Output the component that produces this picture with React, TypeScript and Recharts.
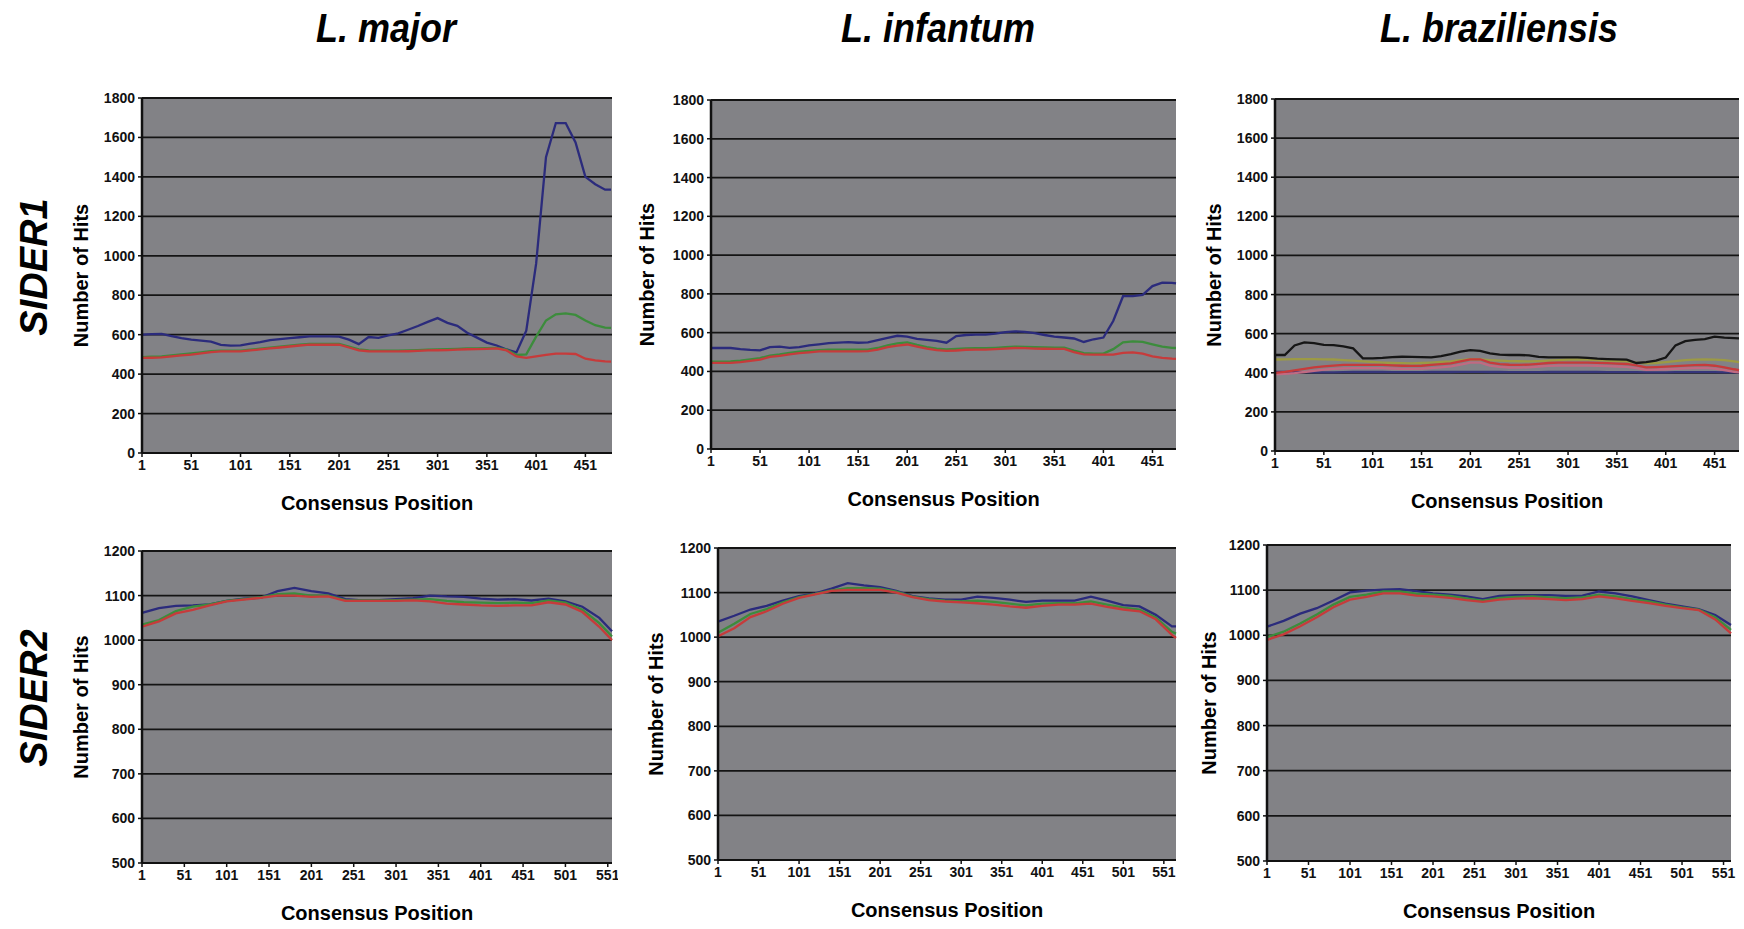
import React from "react";
import { LineChart, Line, XAxis, YAxis, CartesianGrid } from "recharts";

// ---- axis ticks ----
const sider1PosTicks = [1, 51, 101, 151, 201, 251, 301, 351, 401, 451];
const sider2PosTicks = [1, 51, 101, 151, 201, 251, 301, 351, 401, 451, 501, 551];
const sider1HitTicks = [0, 200, 400, 600, 800, 1000, 1200, 1400, 1600, 1800];
const sider2HitTicks = [500, 600, 700, 800, 900, 1000, 1100, 1200];

// ---- SIDER1, L. major ----
const majorS1Pos = [1, 11, 21, 31, 41, 51, 61, 71, 81, 91, 101, 111, 121, 131, 141, 151, 161, 171, 181, 191, 201, 211, 221, 231, 241, 251, 261, 271, 281, 291, 301, 311, 321, 331, 341, 351, 361, 371, 381, 391, 401, 411, 421, 431, 441, 451, 461, 471, 477];
const majorS1Blue = [600, 603, 604, 593, 583, 575, 570, 565, 548, 544, 546, 554, 562, 572, 577, 582, 587, 591, 591, 591, 590, 575, 552, 588, 584, 596, 607, 625, 644, 665, 684, 660, 645, 610, 585, 560, 545, 525, 510, 620, 960, 1500, 1673, 1673, 1575, 1400, 1363, 1335, 1335];
const majorS1Green = [486, 488, 490, 495, 500, 505, 510, 516, 519, 519, 519, 524, 529, 534, 539, 544, 549, 553, 553, 553, 553, 540, 525, 520, 519, 519, 519, 520, 522, 524, 525, 526, 528, 530, 531, 532, 533, 524, 497, 500, 590, 672, 703, 708, 700, 672, 648, 636, 634];
const majorS1Red = [482, 483, 485, 490, 495, 499, 505, 512, 515, 515, 515, 520, 525, 530, 535, 540, 545, 549, 549, 549, 549, 535, 520, 516, 515, 515, 515, 516, 518, 520, 521, 522, 524, 526, 527, 528, 530, 520, 490, 482, 490, 498, 504, 504, 502, 478, 470, 465, 463];

// ---- SIDER1, L. infantum ----
const infantumS1Pos = [1, 11, 21, 31, 41, 51, 61, 71, 81, 91, 101, 111, 121, 131, 141, 151, 161, 171, 181, 191, 201, 211, 221, 231, 241, 251, 261, 271, 281, 291, 301, 311, 321, 331, 341, 351, 361, 371, 381, 391, 401, 411, 421, 431, 441, 451, 461, 471, 475];
const infantumS1Blue = [521, 521, 521, 515, 511, 509, 525, 528, 522, 525, 535, 540, 546, 549, 551, 548, 550, 562, 573, 584, 580, 568, 563, 558, 548, 582, 588, 590, 590, 595, 603, 607, 604, 598, 588, 580, 575, 570, 552, 566, 575, 660, 788, 788, 795, 840, 858, 857, 854];
const infantumS1Green = [450, 451, 452, 456, 462, 469, 482, 488, 496, 502, 506, 510, 512, 512, 512, 512, 513, 521, 535, 545, 550, 537, 526, 518, 514, 516, 519, 520, 520, 522, 525, 528, 527, 525, 524, 523, 523, 507, 494, 492, 492, 515, 550, 555, 552, 540, 528, 522, 521];
const infantumS1Red = [444, 444, 444, 448, 454, 461, 475, 480, 488, 494, 498, 503, 504, 504, 504, 504, 505, 512, 525, 533, 539, 528, 518, 510, 506, 508, 512, 513, 513, 515, 518, 521, 520, 518, 517, 516, 516, 500, 488, 487, 487, 487, 496, 498, 492, 478, 470, 466, 465];

// ---- SIDER1, L. braziliensis ----
const brazS1Pos = [1, 11, 21, 31, 41, 51, 61, 71, 81, 91, 101, 111, 121, 131, 141, 151, 161, 171, 181, 191, 201, 211, 221, 231, 241, 251, 261, 271, 281, 291, 301, 311, 321, 331, 341, 351, 361, 371, 381, 391, 401, 411, 421, 431, 441, 451, 461, 471, 476];
const brazS1Black = [491, 491, 540, 555, 552, 543, 541, 535, 525, 474, 474, 476, 480, 482, 481, 480, 479, 485, 495, 508, 516, 512, 499, 493, 491, 491, 489, 481, 479, 479, 479, 479, 476, 472, 470, 469, 467, 450, 455, 462, 478, 540, 562, 568, 572, 585, 580, 577, 576];
const brazS1Olive = [468, 469, 470, 470, 470, 469, 468, 465, 462, 458, 455, 452, 450, 449, 448, 450, 452, 455, 458, 464, 470, 468, 465, 462, 460, 459, 458, 460, 462, 465, 468, 468, 468, 465, 462, 460, 458, 452, 448, 450, 455, 460, 465, 467, 468, 467, 465, 458, 455];
const brazS1Red = [400, 405, 412, 420, 428, 433, 437, 440, 440, 440, 440, 440, 438, 436, 435, 436, 440, 444, 448, 458, 469, 469, 452, 444, 441, 440, 442, 446, 450, 452, 452, 452, 452, 451, 449, 447, 445, 438, 428, 429, 431, 434, 437, 439, 440, 436, 428, 418, 414];
const brazS1Pink = [392, 394, 398, 404, 410, 416, 420, 423, 424, 424, 424, 424, 422, 420, 420, 421, 424, 428, 433, 442, 452, 452, 437, 430, 427, 426, 428, 432, 435, 437, 437, 437, 437, 436, 434, 432, 430, 424, 415, 416, 418, 420, 423, 424, 425, 421, 414, 405, 402];
const brazS1Navy = [404, 404, 403, 403, 402, 402, 402, 403, 404, 404, 404, 404, 403, 403, 403, 403, 404, 404, 404, 405, 405, 405, 404, 404, 403, 403, 403, 403, 404, 404, 404, 404, 404, 404, 403, 403, 403, 403, 402, 402, 402, 403, 403, 403, 403, 403, 402, 402, 402];

// ---- SIDER2, L. major ----
const majorS2Pos = [1, 21, 41, 61, 81, 101, 121, 141, 161, 181, 201, 221, 241, 261, 281, 301, 321, 341, 361, 381, 401, 421, 441, 461, 481, 501, 521, 541, 556];
const majorS2Blue = [1061, 1072, 1077, 1078, 1080, 1088, 1093, 1095, 1110, 1117, 1110, 1105, 1092, 1089, 1090, 1092, 1094, 1100, 1098, 1097, 1093, 1091, 1092, 1089, 1093, 1087, 1075, 1050, 1020];
const majorS2Green = [1035, 1045, 1065, 1075, 1080, 1088, 1092, 1096, 1103, 1105, 1100, 1100, 1090, 1089, 1089, 1090, 1091, 1092, 1088, 1085, 1084, 1083, 1084, 1083, 1089, 1084, 1068, 1038, 1008];
const majorS2Red = [1030, 1042, 1060, 1068, 1078, 1087, 1091, 1095, 1100, 1100, 1097, 1098, 1088, 1088, 1088, 1088, 1089, 1087, 1082, 1080, 1078, 1077, 1078, 1078, 1085, 1080, 1063, 1030, 1000];

// ---- SIDER2, L. infantum ----
const infantumS2Pos = [1, 21, 41, 61, 81, 101, 121, 141, 161, 181, 201, 221, 241, 261, 281, 301, 321, 341, 361, 381, 401, 421, 441, 461, 481, 501, 521, 541, 561, 566];
const infantumS2Blue = [1035, 1048, 1062, 1070, 1082, 1092, 1098, 1109, 1121, 1116, 1112, 1104, 1092, 1087, 1084, 1084, 1091, 1088, 1084, 1079, 1082, 1082, 1082, 1091, 1082, 1072, 1069, 1050, 1024, 1024];
const infantumS2Green = [1010, 1030, 1052, 1063, 1078, 1090, 1097, 1105, 1110, 1110, 1109, 1102, 1091, 1085, 1082, 1080, 1082, 1079, 1075, 1071, 1075, 1076, 1076, 1080, 1073, 1066, 1062, 1044, 1012, 1008];
const infantumS2Red = [1002, 1020, 1045, 1058, 1075, 1088, 1096, 1104, 1106, 1106, 1106, 1100, 1090, 1083, 1080, 1078, 1076, 1073, 1069, 1066, 1070, 1073, 1073, 1075, 1068, 1062, 1058, 1040, 1005, 998];

// ---- SIDER2, L. braziliensis ----
const brazS2Pos = [1, 21, 41, 61, 81, 101, 121, 141, 161, 181, 201, 221, 241, 261, 281, 301, 321, 341, 361, 381, 401, 421, 441, 461, 481, 501, 521, 541, 560];
const brazS2Blue = [1019, 1032, 1048, 1060, 1077, 1095, 1099, 1101, 1102, 1098, 1093, 1090, 1086, 1080, 1087, 1089, 1089, 1089, 1087, 1088, 1097, 1093, 1086, 1078, 1070, 1064, 1058, 1045, 1023];
const brazS2Green = [996, 1008, 1026, 1046, 1068, 1085, 1090, 1097, 1097, 1092, 1090, 1087, 1082, 1077, 1083, 1085, 1086, 1084, 1082, 1084, 1090, 1086, 1080, 1075, 1068, 1062, 1057, 1040, 1012];
const brazS2Red = [990, 1002, 1020, 1040, 1062, 1079, 1085, 1093, 1093, 1088, 1086, 1083, 1078, 1074, 1079, 1081, 1082, 1080, 1078, 1080, 1086, 1082, 1076, 1071, 1065, 1060, 1056, 1035, 1004];

const BLUE = "#2b2b7c";
const GREEN = "#3c8c3c";
const RED = "#c63b3b";
const BLACK = "#161616";
const OLIVE = "#9c9a44";
const PINK = "#c06a82";
const NAVY = "#35357a";

const FONT = "'Liberation Sans', Arial, sans-serif";

type Series = { values: number[]; color: string };
type Panel = {
  pos: number[];
  series: Series[];
  xMax: number;
  xTicks: number[];
  yTicks: number[];
  left: number;
  top: number;
  width: number;
  height: number;
  hitsX: number;
};

const panels: Panel[] = [
  {
    pos: majorS1Pos,
    series: [
      { values: majorS1Blue, color: BLUE },
      { values: majorS1Green, color: GREEN },
      { values: majorS1Red, color: RED },
    ],
    xMax: 478, xTicks: sider1PosTicks, yTicks: sider1HitTicks,
    left: 142, top: 98, width: 470, height: 355, hitsX: 88,
  },
  {
    pos: infantumS1Pos,
    series: [
      { values: infantumS1Blue, color: BLUE },
      { values: infantumS1Green, color: GREEN },
      { values: infantumS1Red, color: RED },
    ],
    xMax: 475, xTicks: sider1PosTicks, yTicks: sider1HitTicks,
    left: 711, top: 100, width: 465, height: 349, hitsX: 654,
  },
  {
    pos: brazS1Pos,
    series: [
      { values: brazS1Navy, color: NAVY },
      { values: brazS1Olive, color: OLIVE },
      { values: brazS1Pink, color: PINK },
      { values: brazS1Red, color: RED },
      { values: brazS1Black, color: BLACK },
    ],
    xMax: 476, xTicks: sider1PosTicks, yTicks: sider1HitTicks,
    left: 1275, top: 99, width: 464, height: 352, hitsX: 1221,
  },
  {
    pos: majorS2Pos,
    series: [
      { values: majorS2Blue, color: BLUE },
      { values: majorS2Green, color: GREEN },
      { values: majorS2Red, color: RED },
    ],
    xMax: 556, xTicks: sider2PosTicks, yTicks: sider2HitTicks,
    left: 142, top: 551, width: 470, height: 312, hitsX: 88,
  },
  {
    pos: infantumS2Pos,
    series: [
      { values: infantumS2Blue, color: BLUE },
      { values: infantumS2Green, color: GREEN },
      { values: infantumS2Red, color: RED },
    ],
    xMax: 566, xTicks: sider2PosTicks, yTicks: sider2HitTicks,
    left: 718, top: 548, width: 458, height: 312, hitsX: 663,
  },
  {
    pos: brazS2Pos,
    series: [
      { values: brazS2Blue, color: BLUE },
      { values: brazS2Green, color: GREEN },
      { values: brazS2Red, color: RED },
    ],
    xMax: 560, xTicks: sider2PosTicks, yTicks: sider2HitTicks,
    left: 1267, top: 545, width: 464, height: 316, hitsX: 1216,
  },
];

const species = [
  { name: "L. major", x: 386 },
  { name: "L. infantum", x: 938 },
  { name: "L. braziliensis", x: 1499 },
];
const rows = [
  { name: "SIDER1", y: 267 },
  { name: "SIDER2", y: 698 },
];

const tickStyle = { fontSize: 14, fontWeight: 700, fill: "#111", fontFamily: FONT };

function PanelChart({ p }: { p: Panel }) {
  const data = p.pos.map((pos, i) => {
    const row: Record<string, number> = { pos };
    p.series.forEach((s, k) => {
      row["s" + k] = s.values[i];
    });
    return row;
  });
  const yW = 70;
  const mTop = 10;
  const mRight = 6;
  const xH = 40;
  const domainY: [number, number] = [p.yTicks[0], p.yTicks[p.yTicks.length - 1]];
  return (
    <div style={{ position: "absolute", left: p.left - yW, top: p.top - mTop }}>
      <LineChart
        width={p.width + yW + mRight}
        height={p.height + mTop + xH}
        data={data}
        margin={{ top: mTop, right: mRight, bottom: 0, left: 0 }}
        style={{ fontFamily: FONT }}
      >
        <CartesianGrid
          vertical={false}
          fill="#828286"
          fillOpacity={1}
          stroke="#141414"
          strokeWidth={1.8}
        />
        <XAxis
          dataKey="pos"
          type="number"
          domain={[1, p.xMax]}
          ticks={p.xTicks}
          interval={0}
          height={xH}
          tick={tickStyle}
          tickSize={4}
          tickMargin={3}
          axisLine={{ stroke: "#111", strokeWidth: 2 }}
          tickLine={{ stroke: "#111", strokeWidth: 1.5 }}
        />
        <YAxis
          type="number"
          domain={domainY}
          ticks={p.yTicks}
          interval={0}
          width={yW}
          tick={tickStyle}
          tickSize={4}
          tickMargin={3}
          axisLine={{ stroke: "#111", strokeWidth: 2.5 }}
          tickLine={{ stroke: "#111", strokeWidth: 1.5 }}
        />
        <YAxis
          yAxisId="edge"
          orientation="right"
          type="number"
          domain={domainY}
          width={0}
          tick={false}
          tickLine={false}
          axisLine={{ stroke: "#333", strokeWidth: 1.5 }}
        />
        {p.series.map((s, k) => (
          <Line
            key={k}
            type="linear"
            dataKey={"s" + k}
            stroke={s.color}
            strokeWidth={2.3}
            dot={false}
            isAnimationActive={false}
          />
        ))}
      </LineChart>
    </div>
  );
}

export default function App() {
  return (
    <div
      style={{
        position: "absolute",
        left: 0,
        top: 0,
        width: 1744,
        height: 929,
        overflow: "hidden",
        background: "#fff",
        fontFamily: FONT,
      }}
    >
      {panels.map((p, i) => (
        <PanelChart key={i} p={p} />
      ))}
      <svg
        width={1744}
        height={929}
        style={{ position: "absolute", left: 0, top: 0, pointerEvents: "none" }}
      >
        {species.map((s) => (
          <text
            key={s.name}
            transform={`translate(${s.x},42) scale(0.9,1)`}
            textAnchor="middle"
            fontFamily={FONT}
            fontWeight={700}
            fontStyle="italic"
            fontSize={40}
            fill="#000"
          >
            {s.name}
          </text>
        ))}
        {rows.map((r) => (
          <text
            key={r.name}
            transform={`translate(47,${r.y}) rotate(-90)`}
            textAnchor="middle"
            fontFamily={FONT}
            fontWeight={700}
            fontStyle="italic"
            fontSize={38}
            fill="#000"
          >
            {r.name}
          </text>
        ))}
        {panels.map((p, i) => (
          <g key={i}>
            <text
              transform={`translate(${p.hitsX},${p.top + p.height / 2}) rotate(-90)`}
              textAnchor="middle"
              fontFamily={FONT}
              fontWeight={700}
              fontSize={20}
              fill="#000"
            >
              Number of Hits
            </text>
            <text
              x={p.left + p.width / 2}
              y={p.top + p.height + 57}
              textAnchor="middle"
              fontFamily={FONT}
              fontWeight={700}
              fontSize={20}
              fill="#000"
            >
              Consensus Position
            </text>
          </g>
        ))}
      </svg>
    </div>
  );
}
